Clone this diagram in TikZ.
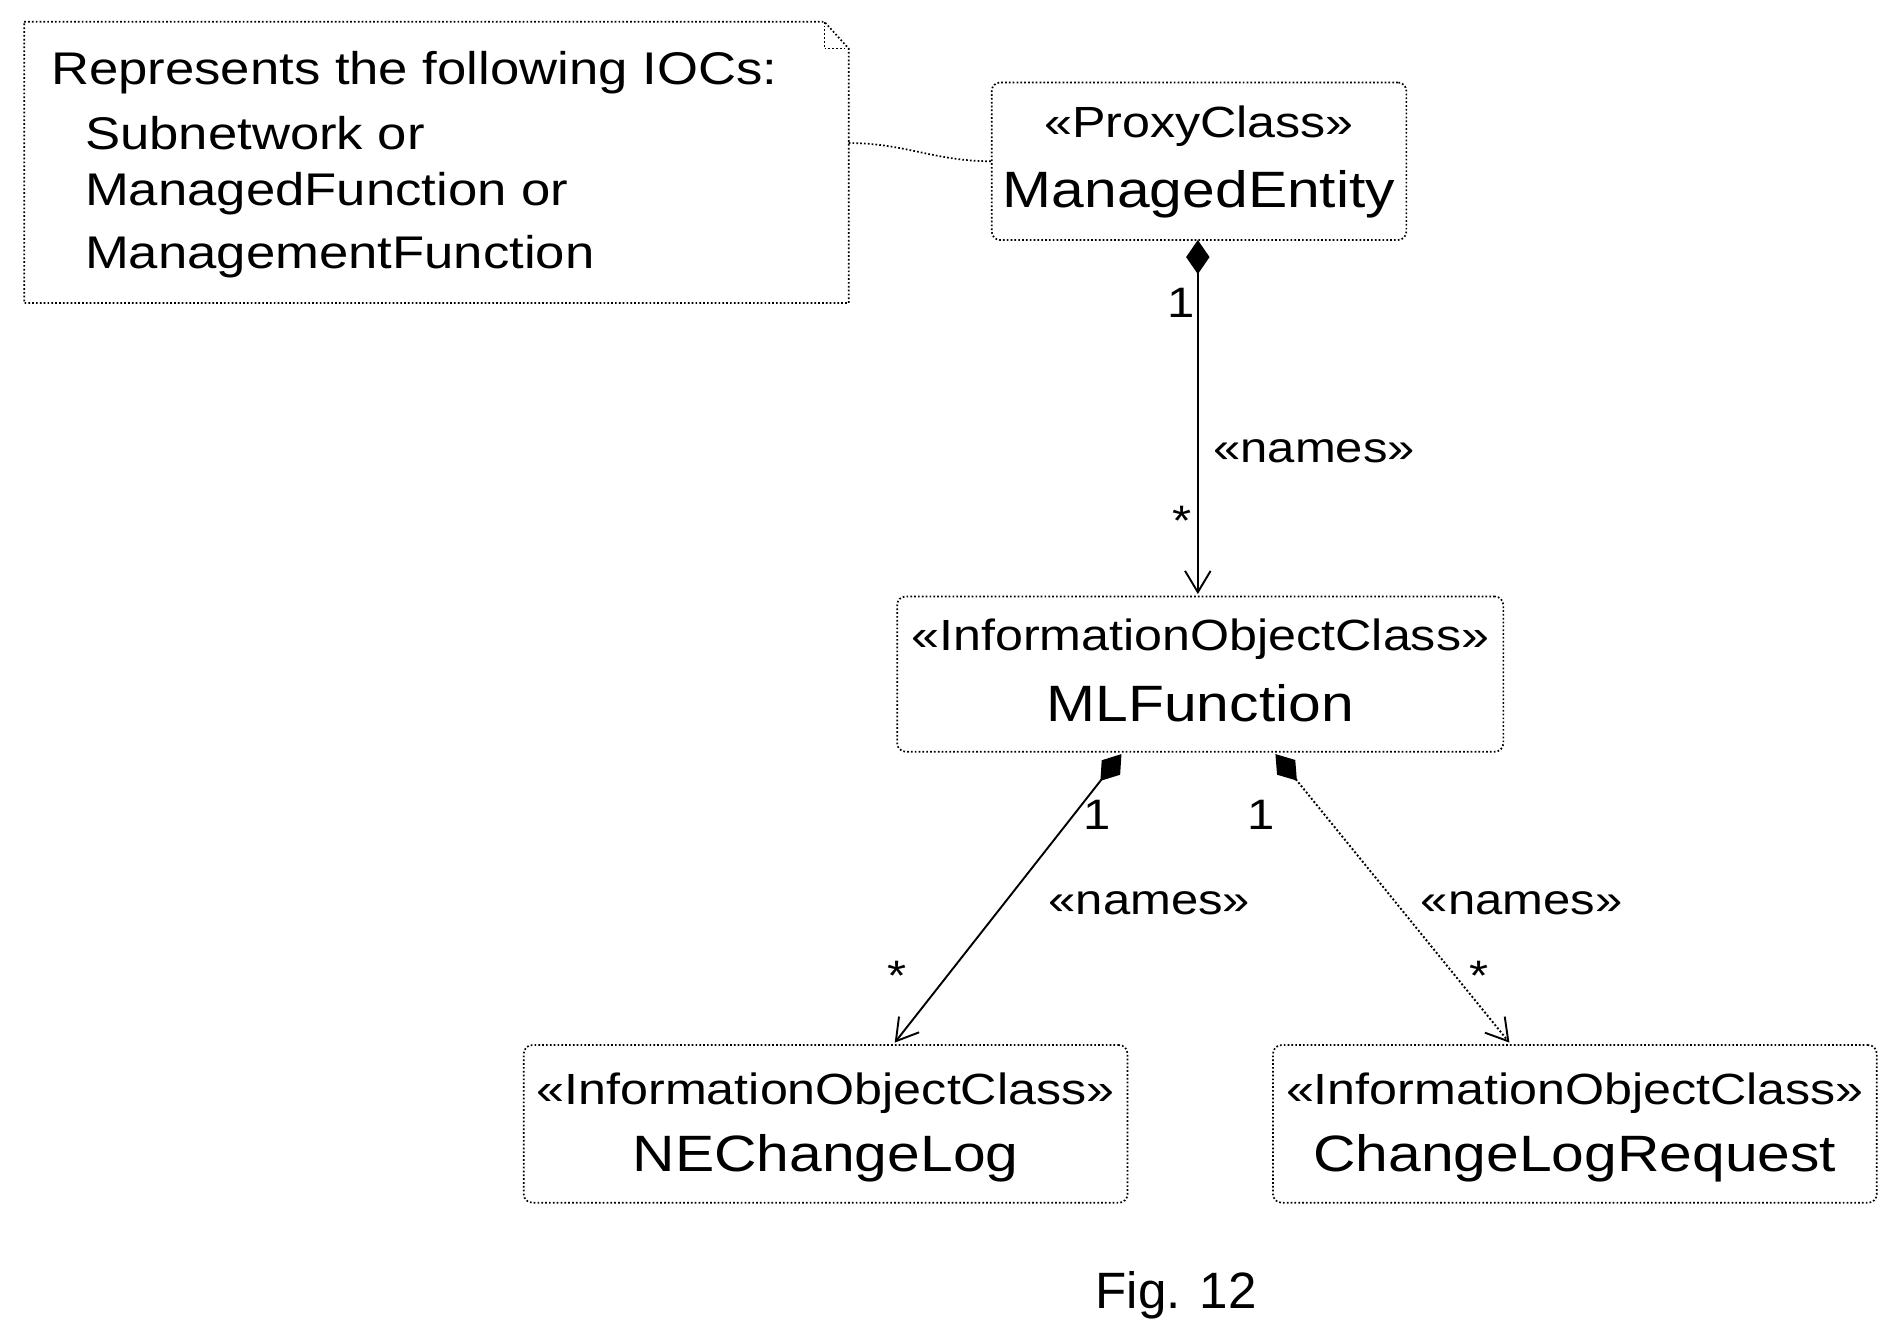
\documentclass[tikz,border=0pt]{standalone}
\usepackage{fontspec}
\setmainfont{Liberation Sans}
\newfontfamily\wide{Liberation Sans}[FakeStretch=1.15]
\usetikzlibrary{arrows.meta}
\begin{document}
\begin{tikzpicture}[x=0.02cm,y=-0.02cm,
  cls/.style={draw,densely dotted,rounded corners=4pt,line width=0.8pt,inner sep=0pt},
  st/.style={font=\wide\fontsize{20.5}{24}\selectfont},
  nm/.style={font=\wide\fontsize{24}{28}\selectfont},
  nt/.style={anchor=west,font=\wide\fontsize{21.5}{26}\selectfont},
  lab/.style={font=\wide\fontsize{20}{24}\selectfont},
  comp/.style={line width=0.9pt,{Diamond[length=16pt,width=11pt]}-{Straight Barb[length=10pt,width=12pt]}}]
\useasboundingbox (0,0) rectangle (1568,1108);
% note
\draw[densely dotted,line width=0.8pt] (20,18) -- (680,18) -- (700,40) -- (700,250) -- (20,250) -- cycle;
\draw[densely dotted,line width=0.8pt] (680,18) -- (680,40) -- (700,40);
\node[nt] (n1) at (36,60) {Represents the following IOCs:};
\node[nt] (n2) at (64,110) {Subnetwork or};
\node[nt] (n3) at (64,160) {ManagedFunction or};
\node[nt] (n4) at (64,212) {ManagementFunction};
\coordinate (nc) at (700,118);
% boxes
\node[cls,minimum width=342*0.02cm,minimum height=130*0.02cm] (me) at (989,133) {};
\node[st] at (989,104) {«ProxyClass»};
\node[nm] at (989,160) {ManagedEntity};
\node[cls,minimum width=500*0.02cm,minimum height=128*0.02cm] (ml) at (990,556) {};
\node[st] at (990,527) {«InformationObjectClass»};
\node[nm] at (990,580) {MLFunction};
\node[cls,minimum width=498*0.02cm,minimum height=130*0.02cm] (ne) at (681,927) {};
\node[st] at (681,902) {«InformationObjectClass»};
\node[nm] at (681,955) {NEChangeLog};
\node[cls,minimum width=498*0.02cm,minimum height=130*0.02cm] (cr) at (1299,927) {};
\node[st] at (1299,902) {«InformationObjectClass»};
\node[nm] at (1299,955) {ChangeLogRequest};
% connectors
\draw[densely dotted,line width=0.8pt] (nc) to[out=0,in=180] (me.west);
\coordinate (a1) at (988,198); \coordinate (b1) at (988,490);
\draw[comp] (a1) -- (b1);
\coordinate (a2) at (925,622); \coordinate (b2) at (738,860);
\draw[comp] (a2) -- (b2);
\coordinate (a3) at (1052,622); \coordinate (b3) at (1245,860);
\draw[comp,densely dotted] (a3) -- (b3);
\node[lab] at (974,250) {1};
\node[lab] at (1084,372) {«names»};
\node[lab] at (975,430) {*};
\node[lab] at (905,672) {1};
\node[lab] at (948,745) {«names»};
\node[lab] at (740,805) {*};
\node[lab] at (1040,672) {1};
\node[lab] at (1255,745) {«names»};
\node[lab] at (1220,805) {*};
\node[font=\fontsize{24}{28}\selectfont] (fig) at (970,1068) {Fig. 12};
\end{tikzpicture}
\end{document}
